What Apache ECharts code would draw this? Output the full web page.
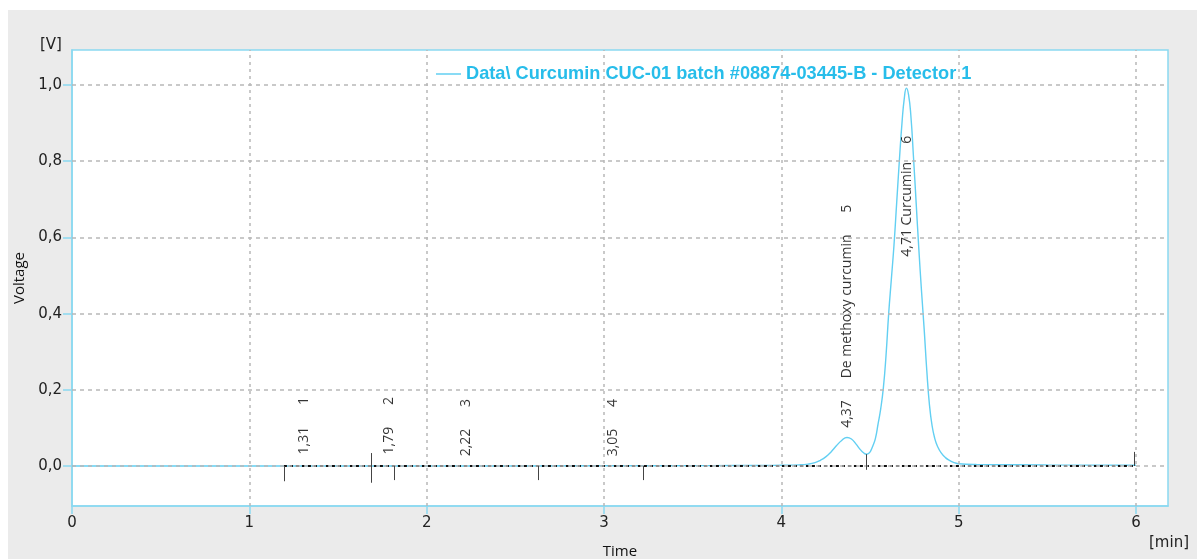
<!DOCTYPE html>
<html>
<head>
<meta charset="utf-8">
<script src="https://cdn.jsdelivr.net/npm/echarts@6/dist/echarts.min.js"></script>
<style>
  html, body { margin: 0; padding: 0; background: #ffffff; }
  #chart { position: absolute; left: 8px; top: 10px; width: 1189px; height: 549px; }
</style>
</head>
<body>
<div id="chart"></div>
<script>
// ---- data ----
const seriesName = 'Data\\ Curcumin CUC-01 batch #08874-03445-B - Detector 1';
const times = [0, 1.0, 2.0, 3.0, 3.6, 3.9, 4.0, 4.10, 4.15, 4.19, 4.22, 4.25, 4.28, 4.31, 4.34, 4.37, 4.395, 4.42, 4.445, 4.465, 4.48, 4.495, 4.505, 4.515,
  4.53, 4.545, 4.56, 4.575, 4.59, 4.605, 4.62, 4.635, 4.65, 4.665, 4.68, 4.693, 4.705, 4.717, 4.73, 4.745, 4.76, 4.775, 4.79, 4.805, 4.82, 4.835,
  4.85, 4.865, 4.88, 4.90, 4.925, 4.95, 4.975, 5.0, 5.1, 5.5, 6.0];
const volts = [0, 0, 0, 0.0005, 0.001, 0.0015, 0.002, 0.003, 0.005, 0.009, 0.015, 0.024, 0.037, 0.053, 0.067, 0.075, 0.071, 0.058, 0.043, 0.034, 0.031, 0.034, 0.041, 0.052,
  0.072, 0.11, 0.15, 0.205, 0.29, 0.40, 0.49, 0.58, 0.69, 0.80, 0.90, 0.965, 0.992, 0.975, 0.92, 0.81, 0.69, 0.57, 0.46, 0.36, 0.25, 0.16,
  0.105, 0.072, 0.052, 0.035, 0.022, 0.014, 0.009, 0.006, 0.004, 0.003, 0.002];

const baselineStart = [1.195, 0];
const baselineEnd = [5.99, 0];
const eventTimes = [1.195, 1.69, 1.815, 2.63, 3.22, 4.476, 5.99];
const eventTop = [0, 0.034, 0, 0, 0, 0.031, 0.037];
const eventBottom = [-0.04, -0.044, -0.037, -0.037, -0.037, -0.01, 0];

const peakTimes = [1.31, 1.79, 2.22, 3.05, 4.37, 4.71];
const peakLabelY = [0.029, 0.029, 0.024, 0.024, 0.099, 0.548];
const peakRT = ['1,31', '1,79', '2,22', '3,05', '4,37', '4,71'];
const peakNames = ['', '', '', '', 'De methoxy curcumin', 'Curcumin'];
const peakNumbers = [1, 2, 3, 4, 5, 6];

const xTicks = [0, 1, 2, 3, 4, 5, 6];
const yTicks = [0, 0.2, 0.4, 0.6, 0.8, 1.0];

// ---- chart ----
const cyan = '#8ad9f1';
const lineColor = '#62cff2';
const chart = echarts.init(document.getElementById('chart'));

function peakText(i) {
  const rt = peakRT[i], nm = peakNames[i], no = peakNumbers[i];
  if (!nm) return rt + '      ' + no;
  if (i === 5) return rt + ' ' + nm + '     ' + no;
  return rt + '      ' + nm + '      ' + no;
}

const gridLineStyle = { color: '#b8b8b8', width: 1.5, type: [4, 4] };

const option = {
  backgroundColor: '#ebebeb',
  animation: false,
  grid: { left: 64, top: 40, right: 29, bottom: 53, show: true, backgroundColor: '#ffffff', borderColor: cyan, borderWidth: 1.5 },
  legend: {
    data: [{ name: seriesName, icon: 'rect' }],
    left: 428, top: 55, padding: 0,
    itemWidth: 25, itemHeight: 1.5, itemGap: 5,
    textStyle: { color: '#27bdea', fontWeight: 'bold', fontFamily: 'Liberation Sans', fontSize: 18.2 }
  },
  xAxis: {
    type: 'value', min: 0, max: 6.18, interval: 1,
    axisLine: { show: true, onZero: false, lineStyle: { color: cyan, width: 1.5 } },
    axisTick: { show: true, length: 8, lineStyle: { color: cyan, width: 1.5 }, customValues: xTicks },
    axisLabel: { customValues: xTicks, margin: 10, color: '#222', fontFamily: 'DejaVu Sans', fontSize: 15, formatter: v => String(v) },
    splitLine: { show: false }
  },
  yAxis: {
    type: 'value', min: -0.105, max: 1.092,
    axisLine: { show: true, onZero: false, lineStyle: { color: cyan, width: 1.5 } },
    axisTick: { show: true, length: 9, lineStyle: { color: cyan, width: 1.5 }, customValues: yTicks },
    axisLabel: { customValues: yTicks, margin: 10, color: '#222', fontFamily: 'DejaVu Sans', fontSize: 15,
      formatter: v => v.toFixed(1).replace('.', ',') },
    splitLine: { show: false }
  },
  graphic: [
    { type: 'text', left: 32, top: 28, style: { text: '[V]', font: '15px "DejaVu Sans"', fill: '#222' } },
    { type: 'text', left: 1141, top: 526, style: { text: '[min]', font: '15px "DejaVu Sans"', fill: '#222' } },
    { type: 'text', x: 12, y: 268, rotation: Math.PI / 2,
      style: { text: 'Voltage', font: '15px "Open Sans"', fill: '#111', textAlign: 'center', textVerticalAlign: 'middle' } },
    { type: 'text', x: 612, y: 534, style: { text: 'Time', font: '15px "Open Sans"', fill: '#111', textAlign: 'center', textVerticalAlign: 'top' } }
  ],
  series: [
    {
      type: 'line', name: 'grid', data: [], symbol: 'none', silent: true, z: 1,
      markLine: {
        silent: true, symbol: 'none', label: { show: false }, animation: false,
        lineStyle: gridLineStyle,
        data: yTicks.map(v => ({ yAxis: v })).concat(xTicks.slice(1).map(v => ({ xAxis: v, lineStyle: { color: '#b8b8b8', width: 1.5, type: [3, 4] } })))
      }
    },
    {
      type: 'line', name: seriesName, data: times.map((t, i) => [t, volts[i]]),
      symbol: 'none', smooth: 0.5, z: 3,
      lineStyle: { color: lineColor, width: 1.4 }, itemStyle: { color: lineColor }
    },
    {
      type: 'line', name: 'baseline', data: [baselineStart, baselineEnd], symbol: 'none', z: 4, silent: true,
      lineStyle: { color: '#111', width: 2, type: [3, 3] },
      markLine: {
        silent: true, symbol: 'none', label: { show: false }, animation: false,
        lineStyle: { color: '#444', width: 1, type: 'solid' },
        data: eventTimes.map((t, i) => [{ coord: [t, eventTop[i]] }, { coord: [t, eventBottom[i]] }])
      }
    },
    {
      type: 'scatter', name: 'peaks', symbolSize: 1, z: 5, silent: true,
      itemStyle: { color: 'rgba(0,0,0,0)' },
      data: peakTimes.map((t, i) => [t, peakLabelY[i], i]),
      label: {
        show: true, position: 'top', distance: 0, rotate: 90, align: 'left', verticalAlign: 'middle',
        color: '#000', fontFamily: 'Open Sans', fontSize: 14,
        formatter: p => peakText(p.value[2])
      }
    }
  ]
};
chart.setOption(option);
</script>
</body>
</html>
